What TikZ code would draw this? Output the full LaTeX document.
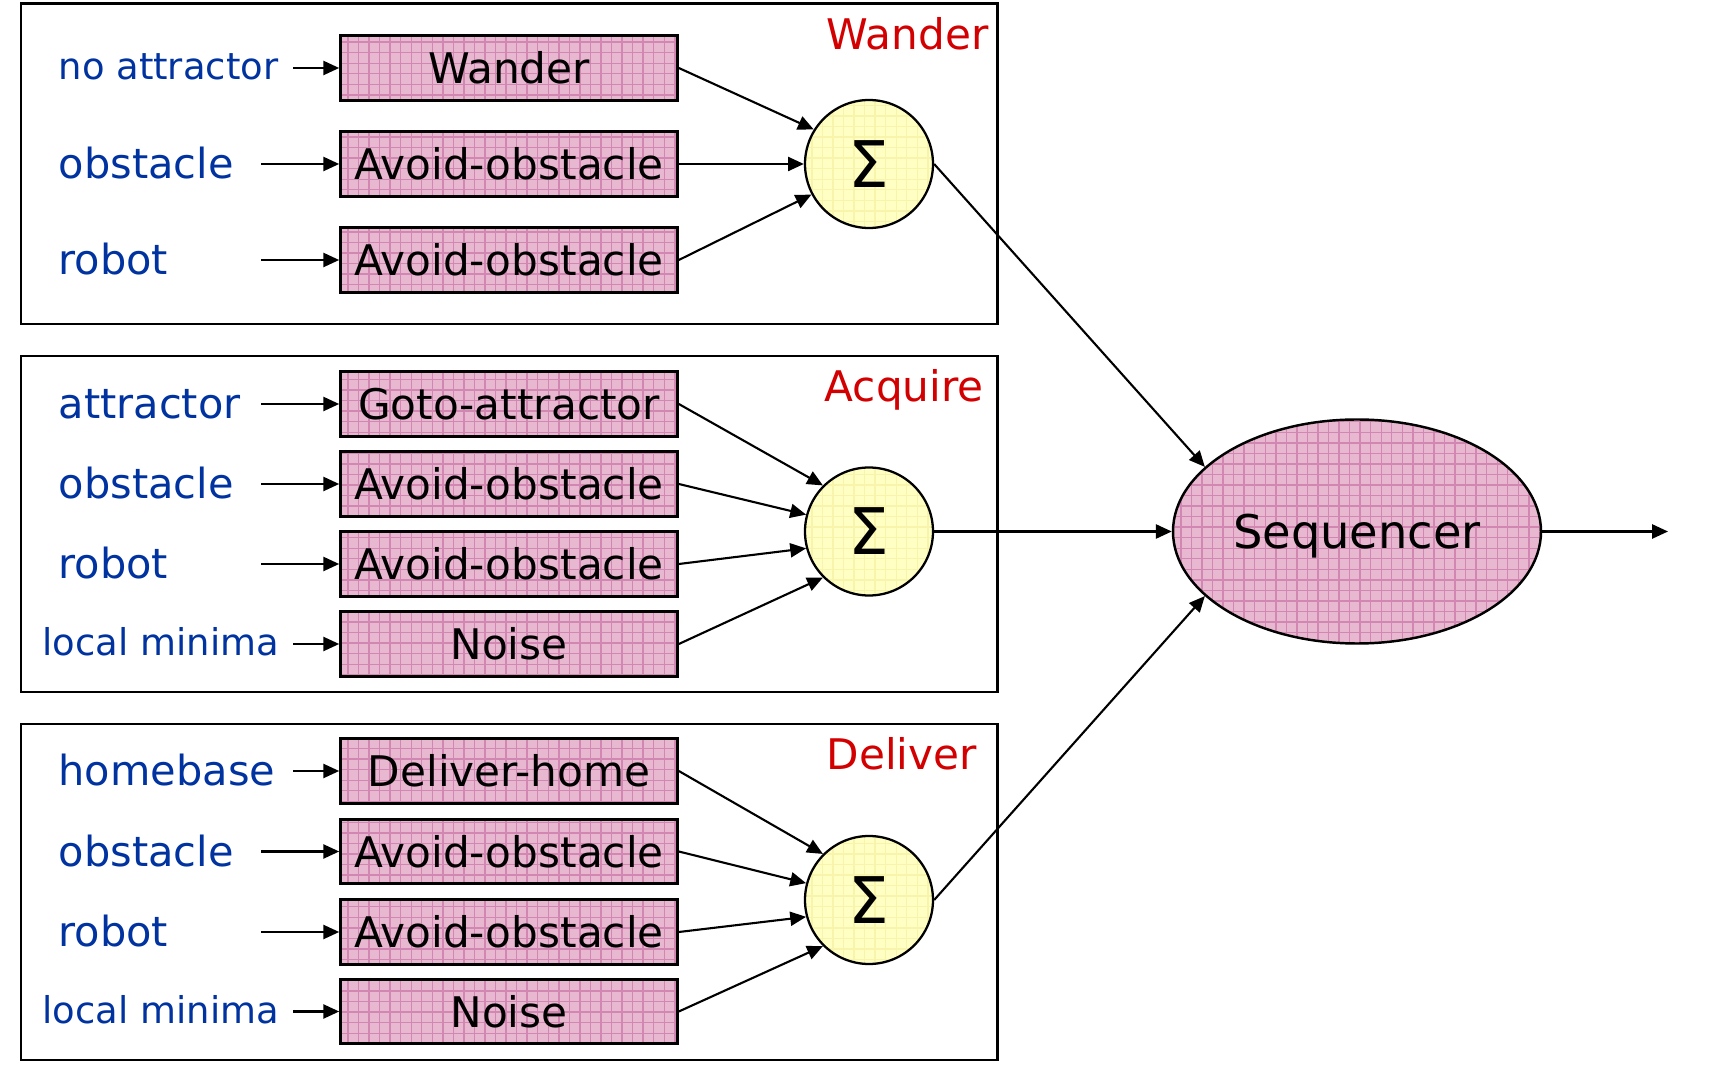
\documentclass[tikz,border=0pt]{standalone}
\usepackage{fontspec}
\setmainfont{DejaVu Sans}
\usetikzlibrary{shapes.geometric,arrows.meta,patterns}
\definecolor{boxpink}{RGB}{232,184,208}
\definecolor{gridpink}{RGB}{210,135,178}
\definecolor{sumyellow}{RGB}{255,255,196}
\definecolor{gridyellow}{RGB}{248,244,172}
\definecolor{inblue}{RGB}{0,51,160}
\definecolor{titlered}{RGB}{210,0,0}
\tikzset{
  behav/.style={draw, line width=0.75pt, preaction={fill=boxpink}, pattern=grid, pattern color=gridpink,
    minimum width=3.37cm, minimum height=0.645cm, inner sep=0pt, font=\fontsize{12}{14}\selectfont},
  sumnode/.style={circle, draw, line width=0.65pt, preaction={fill=sumyellow}, pattern=grid, pattern color=gridyellow,
    minimum size=1.28cm, inner sep=0pt, font=\fontsize{18.3}{20}\selectfont},
  seqnode/.style={ellipse, draw, line width=0.7pt, preaction={fill=boxpink}, pattern=grid, pattern color=gridpink,
    minimum width=3.68cm, minimum height=2.24cm, inner sep=0pt, text depth=0pt, font=\fontsize{13.2}{15}\selectfont},
  inlabel/.style={anchor=mid west, text=inblue, inner sep=0pt, yshift=-0.5mm, font=\fontsize{11.8}{14}\selectfont},
  smalllabel/.style={anchor=mid west, text=inblue, inner sep=0pt, yshift=-0.2mm, font=\fontsize{10.5}{12}\selectfont},
  grouptitle/.style={anchor=base west, text=titlered, inner sep=0pt, font=\fontsize{12}{14}\selectfont},
  frame/.style={draw, line width=0.85pt},
  conn/.style={-{Triangle[length=4.5pt,width=4pt]}, line width=0.6pt}
}
\begin{document}
\begin{tikzpicture}
    \useasboundingbox (0,0) rectangle (17.34,-10.86);
    % group frames
    \draw[frame] (0.21,-0.04) rectangle (9.97,-3.24);
    \draw[frame] (0.21,-3.56) rectangle (9.97,-6.92);
    \draw[frame] (0.21,-7.24) rectangle (9.97,-10.60);
    \node[grouptitle] (tw) at (8.26,-0.50) {Wander};
    \node[grouptitle] (ta) at (8.24,-4.02) {Acquire};
    \node[grouptitle] (td) at (8.26,-7.70) {Deliver};

    % Wander
    \node[smalllabel] (lw1) at (0.58,-0.68) {no attractor};
    \node[inlabel] (lw2) at (0.58,-1.64) {obstacle};
    \node[inlabel] (lw3) at (0.58,-2.60) {robot};
    \coordinate (iw1) at (2.93,-0.68);
    \coordinate (iw2) at (2.61,-1.64);
    \coordinate (iw3) at (2.61,-2.60);
    \node[behav] (w1) at (5.09,-0.68) {Wander};
    \node[behav] (w2) at (5.09,-1.64) {Avoid-obstacle};
    \node[behav] (w3) at (5.09,-2.60) {Avoid-obstacle};
    \node[sumnode] (s1) at (8.69,-1.64) {Σ};

    % Acquire
    \node[inlabel] (la1) at (0.58,-4.04) {attractor};
    \node[inlabel] (la2) at (0.58,-4.84) {obstacle};
    \node[inlabel] (la3) at (0.58,-5.64) {robot};
    \node[smalllabel] (la4) at (0.42,-6.44) {local minima};
    \coordinate (ia1) at (2.61,-4.04);
    \coordinate (ia2) at (2.61,-4.84);
    \coordinate (ia3) at (2.61,-5.64);
    \coordinate (ia4) at (2.93,-6.44);
    \node[behav] (a1) at (5.09,-4.04) {Goto-attractor};
    \node[behav] (a2) at (5.09,-4.84) {Avoid-obstacle};
    \node[behav] (a3) at (5.09,-5.64) {Avoid-obstacle};
    \node[behav] (a4) at (5.09,-6.44) {Noise};
    \node[sumnode] (s2) at (8.69,-5.315) {Σ};

    % Deliver
    \node[inlabel] (ld1) at (0.58,-7.71) {homebase};
    \node[inlabel] (ld2) at (0.58,-8.515) {obstacle};
    \node[inlabel] (ld3) at (0.58,-9.32) {robot};
    \node[smalllabel] (ld4) at (0.42,-10.115) {local minima};
    \coordinate (id1) at (2.93,-7.71);
    \coordinate (id2) at (2.61,-8.515);
    \coordinate (id3) at (2.61,-9.32);
    \coordinate (id4) at (2.93,-10.115);
    \node[behav] (d1) at (5.09,-7.71) {Deliver-home};
    \node[behav] (d2) at (5.09,-8.515) {Avoid-obstacle};
    \node[behav] (d3) at (5.09,-9.32) {Avoid-obstacle};
    \node[behav] (d4) at (5.09,-10.115) {Noise};
    \node[sumnode] (s3) at (8.69,-9.00) {Σ};

    % sequencer
    \node[seqnode] (seq) at (13.57,-5.315) {Sequencer};
    \coordinate (out) at (16.68,-5.315);

    % connectors
    \draw[conn] (iw1) -- (w1);
    \draw[conn] (iw2) -- (w2);
    \draw[conn] (iw3) -- (w3);
    \draw[conn] (w1.east) -- (s1.148);
    \draw[conn] (w2.east) -- (s1.west);
    \draw[conn] (w3.east) -- (s1.208);

    \draw[conn] (ia1) -- (a1);
    \draw[conn] (ia2) -- (a2);
    \draw[conn] (ia3) -- (a3);
    \draw[conn] (ia4) -- (a4);
    \draw[conn] (a1.east) -- (s2.135);
    \draw[conn] (a2.east) -- (s2.165);
    \draw[conn] (a3.east) -- (s2.195);
    \draw[conn] (a4.east) -- (s2.225);

    \draw[conn] (id1) -- (d1);
    \draw[conn] (id2) -- (d2);
    \draw[conn] (id3) -- (d3);
    \draw[conn] (id4) -- (d4);
    \draw[conn] (d1.east) -- (s3.135);
    \draw[conn] (d2.east) -- (s3.165);
    \draw[conn] (d3.east) -- (s3.195);
    \draw[conn] (d4.east) -- (s3.225);

    \draw[conn] (s1.east) -- (seq.157);
    \draw[conn] (s2.east) -- (seq.west);
    \draw[conn] (s3.east) -- (seq.203);
    \draw[conn] (seq.east) -- (out);
\end{tikzpicture}
\end{document}
